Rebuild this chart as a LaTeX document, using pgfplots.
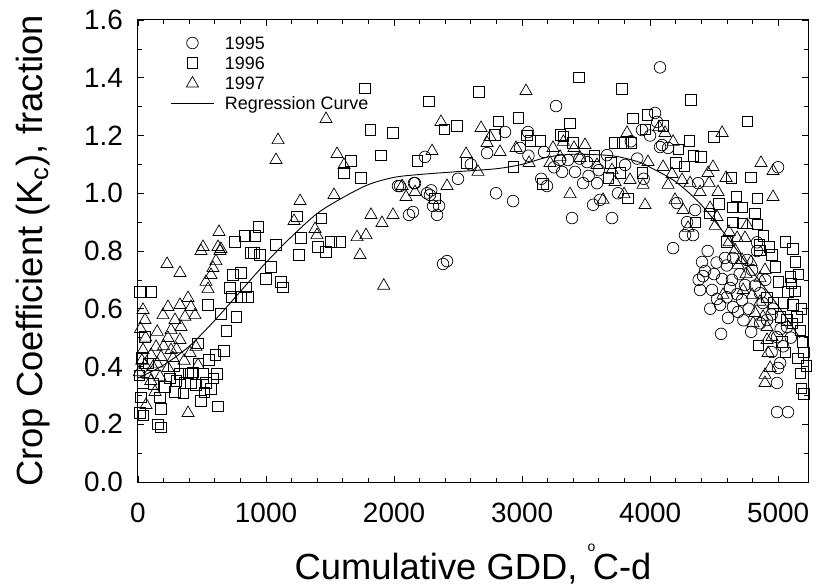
\documentclass[border=0pt]{standalone}
\usepackage{fontspec}
\setmainfont{Liberation Sans}
\usepackage{pgfplots}
\pgfplotsset{compat=1.18}
\pgfplotsset{mylegimg/.style={legend image code/.code={\draw[mark repeat=2,mark phase=2,##1] plot coordinates {(0bp,0bp) (21bp,0bp) (42bp,0bp)};}}}
\begin{document}
\begin{tikzpicture}
\begin{axis}[name=ax, scale only axis, width=670bp, height=462bp,
  xmin=0, xmax=5234, ymin=0, ymax=1.6,
  xtick={0,1000,2000,3000,4000,5000},
  xticklabels={0,1000,2000,3000,4000,5000},
  ytick={0,0.2,0.4,0.6,0.8,1.0,1.2,1.4,1.6},
  yticklabels={0.0,0.2,0.4,0.6,0.8,1.0,1.2,1.4,1.6},
  minor x tick num=4, minor y tick num=1,
  tick align=inside, major tick length=6bp, minor tick length=4bp,
  axis line style={line width=1bp},
  every tick/.style={black, line width=0.7bp},
  tick label style={font=\fontsize{28}{28}\selectfont},
  xticklabel style={inner sep=0pt, yshift=-21bp},
  yticklabel style={inner sep=0pt, xshift=-15bp},
  xlabel={Cumulative GDD, \raisebox{28bp}{\fontsize{14}{14}\selectfont o}\kern-2.5bp C-d},
  ylabel={Crop Coefficient (K\textsubscript{c}), fraction},
  label style={font=\fontsize{36.5}{36.5}\selectfont},
  xlabel style={at={(axis description cs:0.5,-0.2121)}, anchor=base, inner sep=0pt},
  ylabel style={at={(axis description cs:-0.1418,0.5)}, anchor=base, inner sep=0pt},
  legend cell align=left,
  legend style={draw=none, fill=none, at={(axis description cs:0,1)}, anchor=north west,
    xshift=33bp, yshift=-16.5bp, inner sep=0pt, outer sep=0pt,
    font=\fontsize{18}{18}\selectfont, row sep=7bp, column sep=11bp,
    nodes={inner sep=0pt, text height=13bp, text depth=0pt}},
  clip=false,
]
\addplot[only marks, mark=o, mark size=5.8bp, line width=0.7bp, black, mylegimg]
coordinates {
(2031,1.025)(2047,1.025)(2156,1.035)(2164,1.035)(2258,1.0)(2281,0.994)(2305,0.956)(2352,0.956)
(2336,0.925)(2117,0.925)(2148,0.935)(2383,0.755)(2414,0.765)(2797,1.0)(2930,0.973)(3195,1.025)
(3266,1.302)(2867,1.212)(3047,1.212)(2984,1.157)(2727,1.139)(3172,1.143)(2242,1.126)(3313,1.074)
(2290,1.01)(2500,1.05)(2600,1.10)(3050,1.13)(3150,1.05)
(4078,1.436)(4039,1.278)(3937,1.219)(4055,1.247)(4094,1.167)(4141,1.157)(3664,1.132)(3297,1.115)
(3414,1.074)(3359,1.115)(3508,1.108)(3477,1.035)(3586,1.035)(3805,1.098)(3555,0.96)(3609,0.977)
(3391,0.914)(3703,0.914)(4352,0.942)(4375,1.035)(4211,0.966)(4289,0.9)(4336,0.855)(4273,0.855)
(4180,0.81)(5000,1.09)(4836,0.83)(4078,1.16)
(4406,0.762)(4430,0.731)(4414,0.713)(4563,0.703)(4391,0.665)(4484,0.665)(4625,0.672)(4523,0.634)
(4547,0.613)(4609,0.568)(4688,0.589)(4648,0.606)(4742,0.682)(4719,0.63)(4555,0.513)(4586,0.776)
(4648,0.776)(4758,0.769)(4797,0.734)(4859,0.654)(4914,0.561)(4992,0.502)(5016,0.412)(5000,0.395)
(4992,0.343)(4992,0.242)(5078,0.242)(5070,0.537)(4836,0.8)
(3450,1.12)(3520,1.06)(3750,1.0)(3850,1.18)(3950,1.05)(4680,0.65)(4770,0.6)(4880,0.62)
(4950,0.58)(5040,0.47)(5100,0.5)(4900,0.7)(4950,0.45)(4700,0.72)(4820,0.68)(4600,0.75)
(4450,0.8)(4500,0.72)(4730,0.56)(4790,0.52)(4860,0.55)(5020,0.53)(4960,0.6)(4640,0.7)
(4520,0.76)(4380,0.7)(4470,0.6)(4600,0.64)(3900,1.12)(3600,1.08)(3250,1.09)(4000,1.2)
};
\addlegendentry{1995}
\addplot[only marks, mark=square, mark size=5.2bp, line width=0.7bp, black, mylegimg]
coordinates {
(102,0.658)(16,0.658)(953,0.786)(883,0.793)(1258,0.786)(1469,0.797)(742,0.717)(805,0.724)
(1039,0.745)(1000,0.703)(1117,0.693)(1133,0.675)(719,0.672)(844,0.675)(727,0.641)(805,0.641)
(859,0.641)(547,0.613)(648,0.582)(766,0.572)(688,0.523)(55,0.502)(469,0.481)(672,0.454)
(602,0.44)(555,0.423)(508,0.374)(617,0.374)(328,0.374)(391,0.377)(367,0.343)(453,0.336)
(531,0.343)(570,0.322)(289,0.312)(352,0.308)(414,0.343)(492,0.281)(625,0.263)(180,0.253)
(23,0.294)(172,0.294)(39,0.343)(156,0.2)(180,0.19)(16,0.24)(40,0.23)(10,0.37)(30,0.43)
(250,0.36)(280,0.4)(430,0.38)(470,0.41)(520,0.31)(590,0.36)(120,0.34)(210,0.33)(300,0.35)(80,0.41)
(1813,1.219)(1992,1.209)(1664,1.112)(1609,1.07)(1742,1.053)(1898,1.132)(1242,0.921)(1430,0.914)
(938,0.883)(836,0.852)(914,0.852)(758,0.831)(1078,0.821)(1273,0.845)(1406,0.814)(1508,0.831)
(1578,0.831)(906,0.793)(1773,1.364)
(2664,1.351)(2273,1.319)(2969,1.261)(2813,1.25)(2492,1.233)(2391,1.222)(2789,1.202)(3063,1.181)
(3141,1.181)(3039,1.2)(3297,1.202)(2180,1.112)(2570,1.105)(2930,1.091)(3164,1.032)(2320,0.983)
(3445,1.402)(3781,1.361)(4320,1.323)(4758,1.25)(3375,1.243)(3867,1.26)(3977,1.271)(3961,1.222)
(4102,1.233)(3323,1.198)(3398,1.174)(3719,1.174)(3789,1.174)(3852,1.174)(4305,1.181)(4500,1.195)
(4219,1.153)(4336,1.129)(4398,1.126)(3563,1.129)(3695,1.105)(3766,1.07)(3938,1.07)(4203,1.105)
(4266,1.094)(3672,1.053)(3828,0.983)(4633,1.053)(4789,1.056)(4672,0.99)(4836,0.983)(4539,0.963)
(4648,0.952)(4719,0.952)(4461,0.931)(4820,0.931)(4352,0.9)(4648,0.9)(4719,0.896)(4836,0.893)
(4883,0.852)(4601,0.831)(4852,0.821)(5055,0.831)(5117,0.807)(4930,0.814)
(4859,0.803)(4953,0.786)(5133,0.762)(4977,0.745)(5094,0.71)(5000,0.693)(5102,0.689)(5078,0.658)
(5117,0.613)(5148,0.572)(5016,0.572)(5070,0.561)(5172,0.526)(5188,0.485)(5031,0.485)(5055,0.45)
(5200,0.45)(4844,0.474)(5156,0.429)(5219,0.402)(5172,0.377)(5180,0.325)(5203,0.305)(4961,0.62)
(4914,0.64)(5130,0.66)(5160,0.72)(5040,0.62)(5110,0.55)(5180,0.6)
};
\addlegendentry{1996}
\addplot[only marks, mark=triangle, mark size=7bp, line width=0.7bp, black, mylegimg]
coordinates {
(227,0.755)(328,0.724)(609,0.765)(641,0.80)(586,0.741)(570,0.717)(531,0.693)(547,0.668)
(39,0.596)(55,0.561)(234,0.606)(328,0.613)(391,0.637)(414,0.606)(195,0.578)(289,0.561)
(367,0.572)(445,0.578)(336,0.537)(258,0.526)(234,0.499)(141,0.468)(328,0.492)(453,0.468)
(258,0.457)(406,0.447)(39,0.457)(102,0.44)(180,0.433)(273,0.429)(55,0.405)(117,0.398)
(234,0.395)(469,0.405)(78,0.371)(172,0.364)(133,0.312)(63,0.267)(391,0.239)(492,0.80)
(20,0.53)(30,0.42)(10,0.38)(60,0.5)(150,0.52)(100,0.35)(200,0.47)(150,0.41)(300,0.46)(360,0.42)
(1094,1.184)(1078,1.115)(1555,1.136)(1609,1.098)(1266,0.973)(1531,0.994)(1219,0.904)(1383,0.876)
(1398,0.855)(633,0.866)(508,0.814)(625,0.814)(648,0.807)(1711,0.848)(1781,0.855)(1734,0.786)
(1820,0.925)(1906,0.897)(1992,0.925)(1469,1.257)(1920,0.68)
(3031,1.354)(2367,1.247)(2680,1.226)(2750,1.195)(2727,1.174)(2828,1.143)(2953,1.157)(2297,1.146)
(2563,1.136)(2656,1.074)(3055,1.105)(3219,1.105)(3242,1.157)(3297,1.126)(2414,1.025)(2063,1.025)
(2164,1.004)(2094,0.987)
(3820,1.209)(4563,1.209)(4070,1.229)(4117,1.209)(4180,1.178)(3323,1.178)(3406,1.157)(3492,1.167)
(3453,1.122)(3586,1.098)(3703,1.08)(3727,1.039)(3844,1.046)(3945,1.029)(3984,1.108)(4102,1.091)
(4172,1.067)(4141,1.029)(4250,1.046)(4313,1.035)(4453,1.07)(4492,1.091)(4594,1.053)(4867,1.105)
(4961,1.077)(4961,0.987)(4461,1.035)(4391,1.004)(4531,1.004)(3375,0.997)(3633,0.977)(3797,0.997)
(3961,0.959)(4195,0.977)(4258,0.942)(4469,0.949)(4523,0.918)(4508,0.887)(4297,0.88)(4617,0.866)
(4758,0.89)(4680,0.845)(4742,0.845)
(4617,0.83)(4664,0.803)(4719,0.769)(4688,0.752)(4789,0.762)(4898,0.734)(4859,0.706)(4727,0.665)
(4797,0.648)(4859,0.624)(4820,0.585)(4883,0.572)(4805,0.55)(4914,0.537)(4953,0.502)(4914,0.492)
(4922,0.447)(4938,0.395)(4898,0.371)(4898,0.343)(4570,0.648)(4750,0.72)
};
\addlegendentry{1997}
\addplot[smooth, black, line width=0.9bp, no marks, mylegimg]
coordinates {
(0,0.36)(200,0.405)(400,0.47)(600,0.56)(800,0.66)(1000,0.76)(1200,0.85)(1400,0.93)
(1600,0.985)(1800,1.03)(2000,1.055)(2200,1.065)(2500,1.075)(2800,1.085)(3000,1.10)(3200,1.125)
(3400,1.135)(3700,1.13)(3900,1.11)(4000,1.09)(4200,1.04)(4400,0.96)(4600,0.85)(4800,0.73)
(5000,0.61)(5170,0.50)
};
\addlegendentry{Regression Curve}
\end{axis}
\pgfresetboundingbox
\path[use as bounding box] ([xshift=-138bp,yshift=-105bp]ax.south west) rectangle ([xshift=9bp,yshift=20bp]ax.north east);
\end{tikzpicture}
\end{document}
